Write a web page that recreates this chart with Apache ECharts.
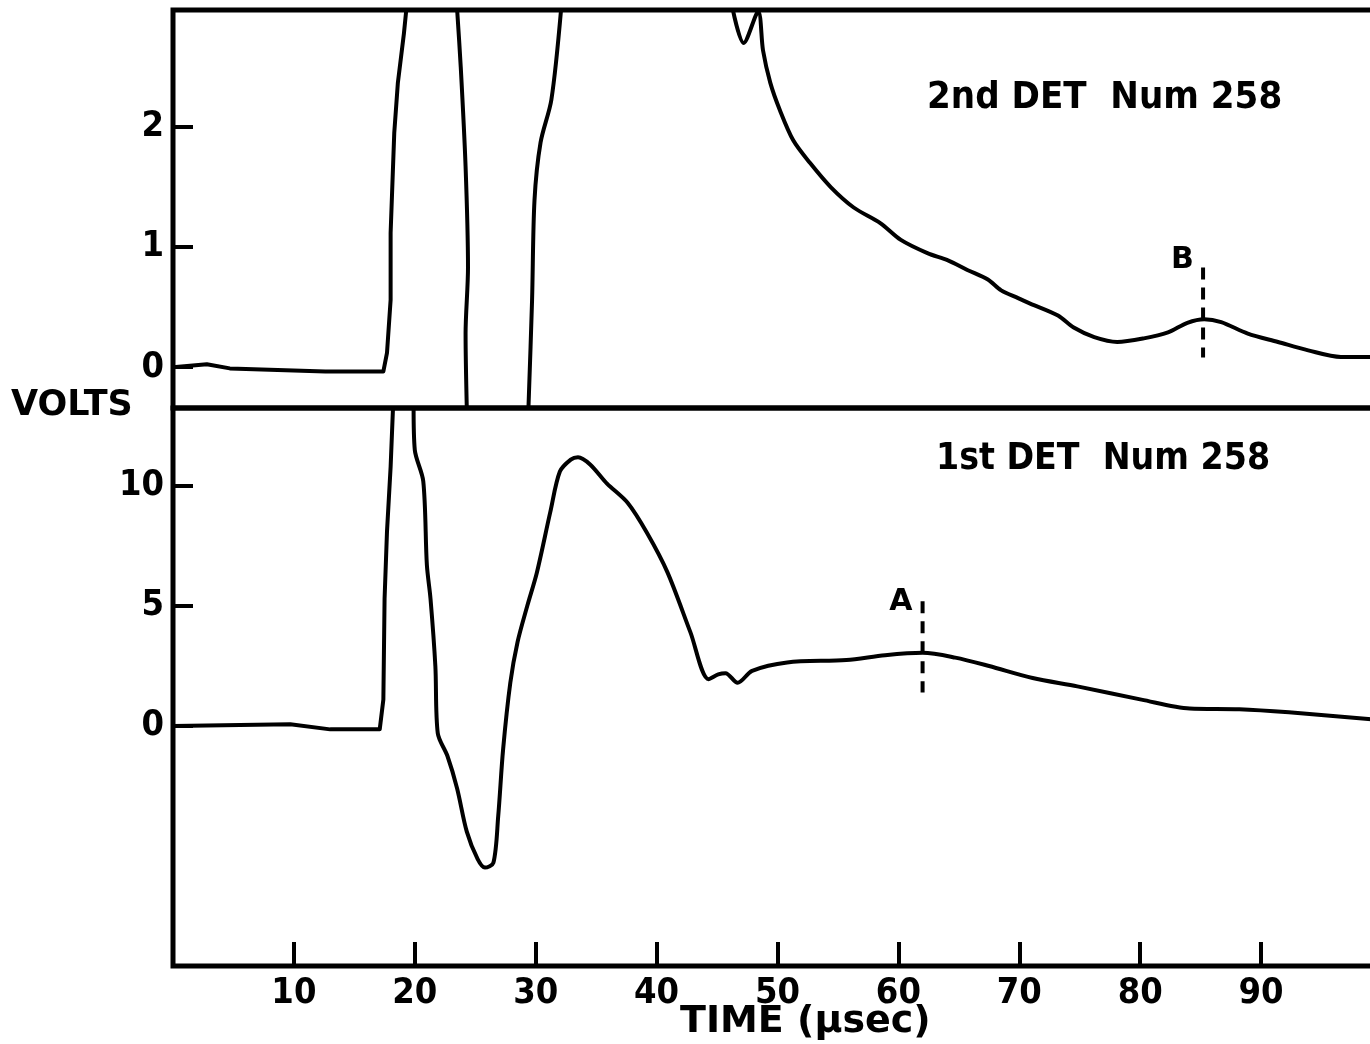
<!DOCTYPE html>
<html>
<head>
<meta charset="utf-8">
<title>DET Num 258</title>
<script src="https://cdn.jsdelivr.net/npm/echarts@6/dist/echarts.min.js"></script>
<style>
  html, body { margin: 0; padding: 0; background: #fff; overflow: hidden; }
  /* the plot frame runs past the right edge of the page in the original */
  #chart { width: 1382px; height: 1044px; }
</style>
</head>
<body>
<div id="chart"></div>
<script>
// x in usec, y in volts
const timeTicks = [10, 20, 30, 40, 50, 60, 70, 80, 90]
const det2Ticks = [0, 1, 2]
const det1Ticks = [0, 5, 10]

// 2nd DET: trace leaves the top of the screen several times, so it is split
const det2Seg1 = [[0, 0], [2.8, 0.025], [4.7, -0.01], [12.6, -0.035], [17.4, -0.035], [17.7, 0.12],
  [18.0, 0.56], [18.0, 1.12], [18.3, 1.95], [18.6, 2.37], [19.1, 2.78], [19.3, 2.98]]
const det2Seg2 = [[23.5, 2.98], [23.8, 2.5], [24.2, 1.67], [24.4, 0.83], [24.2, 0.28], [24.3, -0.34]]
const det2Seg3 = [[29.4, -0.34], [29.7, 0.56], [29.9, 1.39], [30.4, 1.87], [31.3, 2.23], [32.1, 2.98]]
const det2Seg4 = [[46.3, 2.98], [47.2, 2.7], [48.4, 2.96], [48.8, 2.64], [49.4, 2.37], [50.2, 2.14],
  [51.3, 1.89], [52.7, 1.7], [54.4, 1.5], [56.3, 1.33], [58.5, 1.2], [60.2, 1.06], [62.4, 0.95],
  [64.1, 0.89], [65.7, 0.81], [67.4, 0.73], [68.5, 0.64], [69.9, 0.575], [70.9, 0.53], [73.2, 0.43],
  [74.5, 0.33], [76.2, 0.25], [78.1, 0.21], [80.3, 0.24], [82.3, 0.29], [83.9, 0.37], [85.3, 0.4],
  [86.7, 0.375], [88.9, 0.28], [91.4, 0.21], [93.9, 0.14], [96.6, 0.085], [100, 0.085]]

// 1st DET
const det1Seg1 = [[0, 0], [9.7, 0.07], [13.0, -0.14], [17.1, -0.14], [17.4, 1.1], [17.5, 5.3],
  [17.7, 8.1], [18.0, 10.8], [18.2, 13.3]]
const det1Seg2 = [[19.9, 13.3], [20.0, 11.5], [20.7, 10.2], [21.0, 6.7], [21.3, 5.3], [21.7, 2.5],
  [21.9, -0.3], [22.7, -1.25], [23.5, -2.6], [24.3, -4.4], [25.2, -5.55], [25.8, -5.9], [26.5, -5.7],
  [26.9, -3.75], [27.3, -1.0], [27.9, 1.8], [28.5, 3.5], [29.3, 5.0], [30.1, 6.4], [31.2, 8.9],
  [32.0, 10.6], [32.9, 11.1], [33.5, 11.2], [34.5, 10.9], [35.9, 10.1], [37.6, 9.3], [39.2, 8.05],
  [40.9, 6.4], [42.8, 3.9], [44.3, 1.95], [45.1, 2.15], [45.7, 2.2], [46.7, 1.8], [47.9, 2.3],
  [50.8, 2.65], [55.7, 2.75], [58.9, 2.95], [62.0, 3.05], [64.7, 2.85], [67.5, 2.5], [71.1, 2.0],
  [74.8, 1.65], [80.1, 1.1], [84.1, 0.73], [88.2, 0.7], [92.3, 0.57], [99.1, 0.28], [100, 0.25]]

// marker lines A and B
const markA = [[62.0, 5.2], [62.0, 1.4]]
const markB = [[85.2, 0.83], [85.2, 0.08]]
const labelA = [[60.2, 5.15]]
const labelB = [[83.5, 0.89]]

const ink = '#000'
const tickFont = "'Liberation Sans Narrow', 'DejaVu Sans Condensed', sans-serif"
const textFont = "'DejaVu Sans Condensed', 'DejaVu Sans', sans-serif"
const wideFont = "'DejaVu Sans', sans-serif"

function trace(data, idx, smooth) {
  return {
    type: 'line',
    xAxisIndex: idx,
    yAxisIndex: idx,
    data: data,
    showSymbol: false,
    smooth: smooth || false,
    clip: true,
    silent: true,
    lineStyle: { color: ink, width: 4, cap: 'round', join: 'round' }
  }
}

function marker(data, idx) {
  const s = trace(data, idx)
  s.lineStyle = { color: ink, width: 4, type: [12, 8] }
  return s
}

function letter(data, idx, txt) {
  return {
    type: 'scatter',
    xAxisIndex: idx,
    yAxisIndex: idx,
    data: data,
    symbolSize: 0,
    silent: true,
    label: {
      show: true,
      position: 'inside',
      formatter: txt,
      color: ink,
      opacity: 1,
      fontFamily: wideFont,
      fontWeight: 'bold',
      fontSize: 30
    }
  }
}

const chart = echarts.init(document.getElementById('chart'))

const gridStyle = { show: true, borderColor: ink, borderWidth: 5, backgroundColor: 'transparent' }

const yTickStyle = {
  show: true, inside: true, length: 20,
  lineStyle: { color: ink, width: 4 }
}
const yLabelStyle = {
  show: true, margin: 9,
  color: ink, fontFamily: tickFont, fontWeight: 'bold', fontSize: 36
}

chart.setOption({
  backgroundColor: '#fff',
  animation: false,
  grid: [
    Object.assign({ left: 173, right: 0, top: 10, height: 398 }, gridStyle),
    Object.assign({ left: 173, right: 0, top: 408, height: 558 }, gridStyle)
  ],
  xAxis: [
    {
      type: 'value', gridIndex: 0, min: 0, max: 100,
      axisLine: { show: false, onZero: false }, axisTick: { show: false },
      axisLabel: { show: false }, splitLine: { show: false }
    },
    {
      type: 'value', gridIndex: 1, min: 0, max: 100, position: 'bottom',
      axisLine: { show: false, onZero: false },
      axisTick: {
        show: true, inside: true, length: 24, customValues: timeTicks,
        lineStyle: { color: ink, width: 4 }
      },
      axisLabel: {
        show: true, customValues: timeTicks, margin: 10,
        color: ink, fontFamily: tickFont, fontWeight: 'bold', fontSize: 36
      },
      splitLine: { show: false }
    }
  ],
  yAxis: [
    {
      type: 'value', gridIndex: 0, min: -0.34, max: 2.975,
      axisLine: { show: false, onZero: false },
      axisTick: Object.assign({ customValues: det2Ticks }, yTickStyle),
      axisLabel: Object.assign({ customValues: det2Ticks }, yLabelStyle),
      splitLine: { show: false }
    },
    {
      type: 'value', gridIndex: 1, min: -10, max: 13.25,
      axisLine: { show: false, onZero: false },
      axisTick: Object.assign({ customValues: det1Ticks }, yTickStyle),
      axisLabel: Object.assign({ customValues: det1Ticks }, yLabelStyle),
      splitLine: { show: false }
    }
  ],
  graphic: [
    {
      type: 'text', left: 11, top: 388,
      style: { text: 'VOLTS', fill: ink, font: "bold 35px " + wideFont }
    },
    {
      type: 'text', left: 680, top: 1003,
      style: { text: 'TIME (µsec)', fill: ink, font: "bold 38px " + wideFont }
    },
    {
      type: 'text', left: 927, top: 79,
      style: { text: '2nd DET  Num 258', fill: ink, font: "bold 38px " + textFont }
    },
    {
      type: 'text', left: 936, top: 441,
      style: { text: '1st DET  Num 258', fill: ink, font: "bold 37px " + textFont }
    }
  ],
  series: [
    trace(det2Seg1, 0),
    trace(det2Seg2, 0, 0.3),
    trace(det2Seg3, 0, 0.3),
    trace(det2Seg4, 0, 0.3),
    trace(det1Seg1, 1),
    trace(det1Seg2, 1, 0.3),
    marker(markA, 1),
    marker(markB, 0),
    letter(labelA, 1, 'A'),
    letter(labelB, 0, 'B')
  ]
})
</script>
</body>
</html>
